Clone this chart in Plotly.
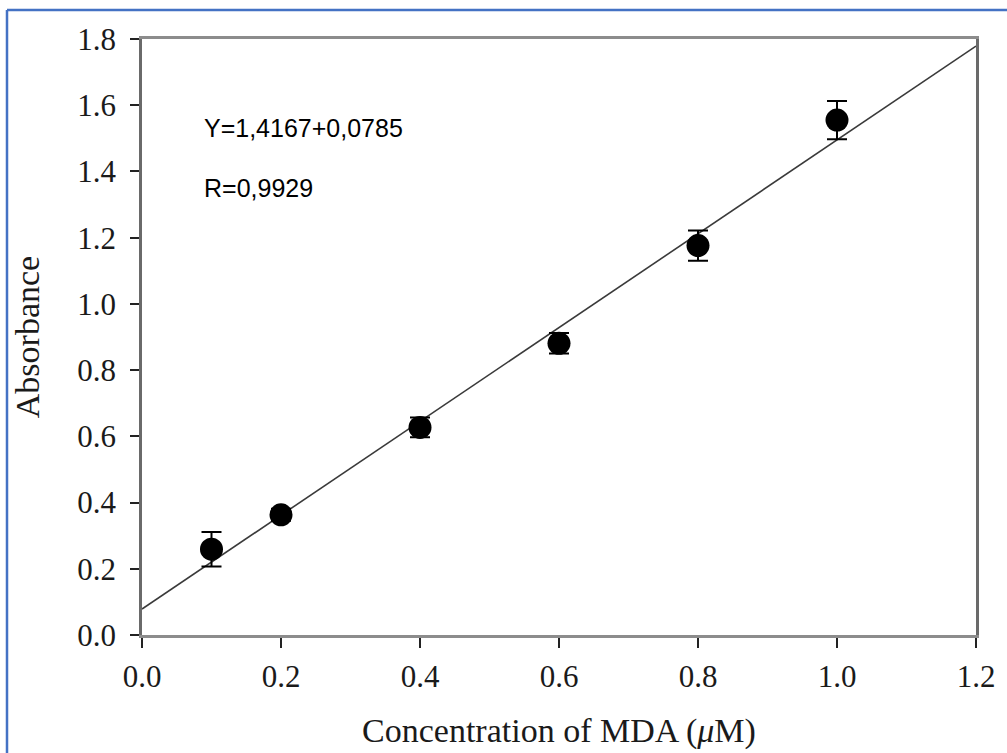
import plotly.graph_objects as go

# Data
conc = [0.1, 0.2, 0.4, 0.6, 0.8, 1.0]
absorb = [0.259, 0.363, 0.627, 0.881, 1.176, 1.555]
err = [0.052, 0.018, 0.030, 0.031, 0.046, 0.058]

fit_x = [0.0, 1.2]
fit_y = [0.0785, 1.7785]

x_ticks = [0.0, 0.2, 0.4, 0.6, 0.8, 1.0, 1.2]
y_ticks = [0.0, 0.2, 0.4, 0.6, 0.8, 1.0, 1.2, 1.4, 1.6, 1.8]

eq_text = "Y=1,4167+0,0785"
r_text = "R=0,9929"

W, H = 1007, 753
L, R, T, B = 142, 31, 39, 118
pw, ph = W - L - R, H - T - B

serif = "Liberation Serif, Times New Roman, serif"

fig = go.Figure()
fig.add_trace(go.Scatter(x=fit_x, y=fit_y, mode="lines",
                         line=dict(color="#3a3a3a", width=1.6),
                         showlegend=False, hoverinfo="skip"))
fig.add_trace(go.Scatter(x=conc, y=absorb, mode="markers",
                         marker=dict(color="black", size=23),
                         error_y=dict(type="data", array=err, visible=True,
                                      color="black", thickness=2, width=10),
                         showlegend=False))

fig.add_annotation(x=(202 - L) / pw, y=1 - (128 - T) / ph, xref="paper", yref="paper",
                   text=eq_text, showarrow=False, xanchor="left", yanchor="middle",
                   font=dict(family="Liberation Sans, Arial, sans-serif", size=25, color="black"))
fig.add_annotation(x=(202 - L) / pw, y=1 - (188 - T) / ph, xref="paper", yref="paper",
                   text=r_text, showarrow=False, xanchor="left", yanchor="middle",
                   font=dict(family="Liberation Sans, Arial, sans-serif", size=25, color="black"))

# blue frame around the picture
blue = "#4472C4"
x_left = (7 - L) / pw
y_top = 1 + (T - 10) / ph
fig.add_shape(type="line", xref="paper", yref="paper",
              x0=x_left, x1=x_left, y0=-(B + 5) / ph, y1=y_top,
              line=dict(color=blue, width=2.5))
fig.add_shape(type="line", xref="paper", yref="paper",
              x0=x_left, x1=1 + (R + 5) / pw, y0=y_top, y1=y_top,
              line=dict(color=blue, width=2.5))

fig.update_xaxes(range=[0, 1.2], tickvals=x_ticks,
                 ticktext=[f"{v:.1f}" for v in x_ticks],
                 showgrid=False, zeroline=False,
                 showline=True, linecolor="#8c8c8c", linewidth=2.5, mirror=True,
                 ticks="outside", ticklen=10, tickwidth=2, tickcolor="#222",
                 ticklabelstandoff=2,
                 tickfont=dict(family=serif, size=31, color="#1a1a1a"),
                 title=dict(text="Concentration of MDA (<i>μ</i>M)",
                            font=dict(family=serif, size=34, color="#1a1a1a"),
                            standoff=26))
fig.update_yaxes(range=[0, 1.8], tickvals=y_ticks,
                 ticktext=[f"{v:.1f}" for v in y_ticks],
                 showgrid=False, zeroline=False,
                 showline=True, linecolor="#6a6a6a", linewidth=2.5, mirror=True,
                 ticks="outside", ticklen=9, tickwidth=2, tickcolor="#222",
                 ticklabelstandoff=8,
                 tickfont=dict(family=serif, size=31, color="#1a1a1a"),
                 title=dict(text="Absorbance",
                            font=dict(family=serif, size=34, color="#1a1a1a"),
                            standoff=28))

fig.update_layout(width=W, height=H,
                  margin=dict(l=L, r=R, t=T, b=B, autoexpand=False),
                  plot_bgcolor="white", paper_bgcolor="white")

fig.write_html("out.html", config={"displayModeBar": False},
               post_script="document.body.style.margin='0';")
